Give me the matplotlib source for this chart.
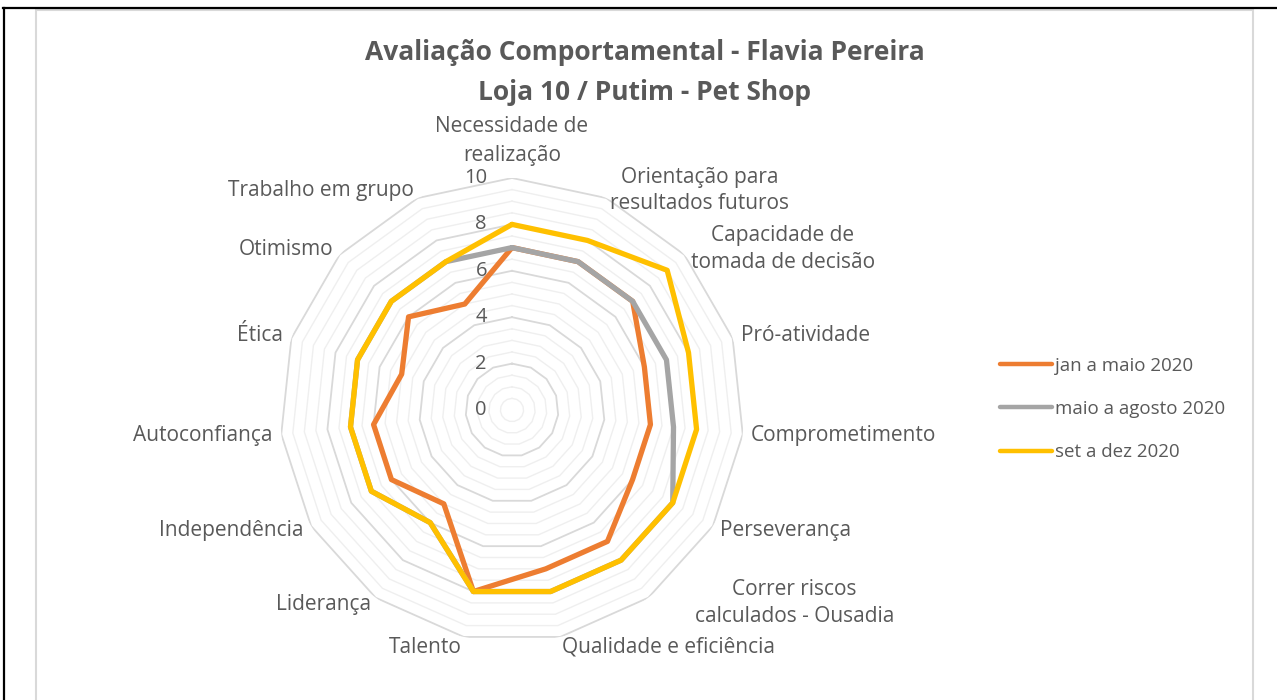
import numpy as np
import matplotlib
matplotlib.use("Agg")
import matplotlib.pyplot as plt
from matplotlib.lines import Line2D
from matplotlib.patches import Rectangle

plt.rcParams['font.family'] = ['Open Sans', 'DejaVu Sans']

categories = ['Necessidade de\nrealização', 'Orientação para\nresultados futuros',
              'Capacidade de\ntomada de decisão', 'Pró-atividade', 'Comprometimento',
              'Perseverança', 'Correr riscos\ncalculados - Ousadia', 'Qualidade e eficiência',
              'Talento', 'Liderança', 'Independência', 'Autoconfiança', 'Ética',
              'Otimismo', 'Trabalho em grupo']
jan_maio = [7, 7, 7, 6, 6, 6, 7, 7, 8, 5, 6, 6, 5, 6, 5]
maio_agosto = [7, 7, 7, 7, 7, 8, 8, 8, 8, 6, 7, 7, 7, 7, 7]
set_dez = [8, 8, 9, 8, 8, 8, 8, 8, 8, 6, 7, 7, 7, 7, 7]
series_names = ['jan a maio 2020', 'maio a agosto 2020', 'set a dez 2020']
series_colors = ['#ED7D31', '#A5A5A5', '#FFC000']
r_ticks = [0, 2, 4, 6, 8, 10]

text_color = '#595959'

W, H = 1277, 700
fig = plt.figure(figsize=(W / 100, H / 100), dpi=100)

# outer frame (black cell border + light chart border)
fig.add_artist(Line2D([4 / W, 4 / W], [0, 1 - 8 / H], color='black', lw=1.6))
fig.add_artist(Line2D([3 / W, 1], [1 - 8 / H, 1 - 8 / H], color='black', lw=1.6))
fig.add_artist(Rectangle((36 / W, -0.05), (1253 - 36) / W, 1.05 - 10 / H,
                         transform=fig.transFigure, fill=False,
                         edgecolor='#d9d9d9', lw=1.5))

cx, cy, R = 512, 410, 232
ax = fig.add_axes([(cx - R) / W, (H - cy - R) / H, 2 * R / W, 2 * R / H],
                  projection='polar')
ax.set_theta_zero_location('N')
ax.set_theta_direction(-1)
ax.set_ylim(0, 10)
ax.grid(False)
ax.spines['polar'].set_visible(False)
ax.set_xticks([])
ax.set_yticks([])
ax.patch.set_alpha(0)

n = len(categories)
theta = np.arange(n) * 2 * np.pi / n
theta_c = np.append(theta, theta[0])

# polygon gridlines
for r in np.arange(0.5, 10.01, 0.5):
    major = abs(r / 2 - round(r / 2)) < 1e-9
    ax.plot(theta_c, np.full(n + 1, r),
            color='#d9d9d9' if major else '#efefef',
            lw=1.3 if major else 1.0, zorder=1)

for vals, name, col in zip([jan_maio, maio_agosto, set_dez], series_names, series_colors):
    v = np.append(vals, vals[0])
    ax.plot(theta_c, v, color=col, lw=3.8, label=name, zorder=3,
            solid_joinstyle='round', solid_capstyle='round')

for r in r_ticks:
    ax.annotate(str(r), xy=(0, r), xytext=(-18, 0), textcoords='offset points',
                ha='right', va='center', fontsize=14.5, color=text_color)

for t, lab in zip(theta, categories):
    s, c = np.sin(t), np.cos(t)
    ha = 'center' if abs(s) < 0.1 else ('left' if s > 0 else 'right')
    dx, dy = 6 * s, 6 * c
    ls = 1.35
    if c > 0.95:
        va = 'bottom'
        dy = 9
        ls = 1.5
    elif c < -0.95:
        va = 'top'
        dy = 0
    else:
        va = 'center'
    if lab.startswith('Correr'):
        dx += 30
        dy += 1
    ax.annotate(lab, xy=(t, 10), xytext=(dx, dy), textcoords='offset points',
                ha=ha, va=va, multialignment='center', fontsize=15,
                linespacing=ls, color=text_color, annotation_clip=False)

fig.text(645 / W, 1 - 52 / H, 'Avaliação Comportamental - Flavia Pereira',
         ha='center', va='center', fontsize=19, fontweight='bold', color=text_color)
fig.text(645 / W, 1 - 92 / H, 'Loja 10 / Putim - Pet Shop',
         ha='center', va='center', fontsize=19, fontweight='bold', color=text_color)

handles = [Line2D([], [], color=c, lw=3.2, solid_capstyle='round') for c in series_colors]
fig.legend(handles, series_names, loc='center left',
           bbox_to_anchor=(1000 / W, 1 - 409 / H), frameon=False,
           fontsize=13.5, labelcolor=text_color, handlelength=2.75,
           handletextpad=0.2, labelspacing=1.35, borderaxespad=0, borderpad=0)

fig.savefig('out.png', dpi=100)
